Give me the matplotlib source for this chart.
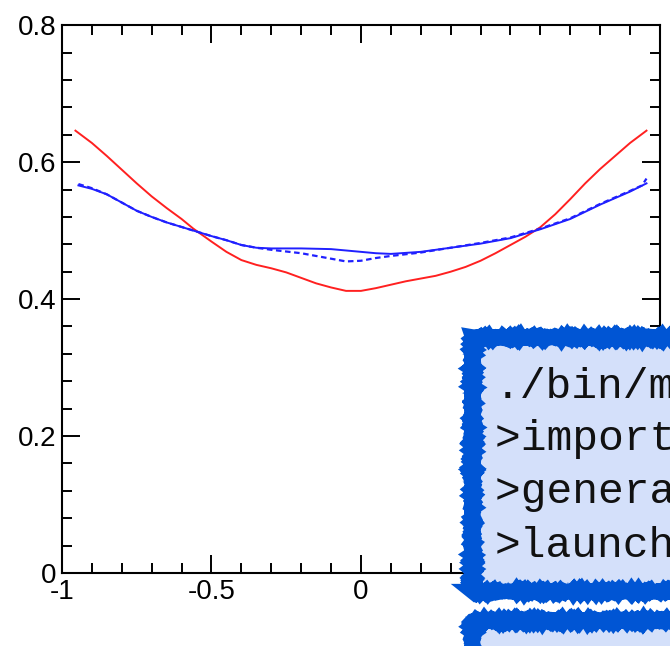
import matplotlib
matplotlib.use("Agg")
import matplotlib.pyplot as plt
from matplotlib.patches import Rectangle
from matplotlib.ticker import MultipleLocator

# curves
x_red = [-0.955, -0.9, -0.85, -0.8, -0.75, -0.7, -0.65, -0.6, -0.561, -0.5, -0.45, -0.4, -0.35, -0.3,
         -0.25, -0.2, -0.15, -0.1, -0.05, 0.0, 0.05, 0.1, 0.15, 0.2, 0.25, 0.3, 0.35, 0.4, 0.45,
         0.5, 0.55, 0.6, 0.65, 0.7, 0.75, 0.8, 0.85, 0.9, 0.955]
y_red = [0.646, 0.628, 0.609, 0.589, 0.569, 0.550, 0.533, 0.517, 0.503, 0.484, 0.469, 0.457, 0.450, 0.445,
         0.439, 0.431, 0.423, 0.417, 0.412, 0.412, 0.416, 0.421, 0.426, 0.430, 0.434, 0.440, 0.447, 0.456, 0.467,
         0.479, 0.491, 0.505, 0.524, 0.546, 0.569, 0.590, 0.609, 0.628, 0.646]

x_solid = [-0.945, -0.9, -0.85, -0.8, -0.75, -0.7, -0.65, -0.56, -0.5, -0.45, -0.4, -0.35, -0.3, -0.2, -0.1,
           0.0, 0.05, 0.1, 0.2, 0.3, 0.4, 0.5, 0.6, 0.7, 0.8, 0.9, 0.955]
y_solid = [0.566, 0.561, 0.553, 0.541, 0.529, 0.520, 0.512, 0.500, 0.492, 0.486, 0.479, 0.475, 0.474, 0.474, 0.473,
           0.469, 0.467, 0.466, 0.469, 0.475, 0.481, 0.489, 0.502, 0.517, 0.538, 0.557, 0.569]

x_dash = [-0.945, -0.9, -0.85, -0.8, -0.75, -0.7, -0.65, -0.56, -0.5, -0.45, -0.4, -0.35, -0.3, -0.2, -0.1,
          -0.05, 0.0, 0.05, 0.1, 0.2, 0.3, 0.4, 0.5, 0.6, 0.7, 0.8, 0.9, 0.94, 0.955]
y_dash = [0.568, 0.562, 0.553, 0.541, 0.529, 0.520, 0.512, 0.500, 0.492, 0.486, 0.479, 0.475, 0.472, 0.467, 0.459,
          0.455, 0.456, 0.460, 0.463, 0.468, 0.475, 0.482, 0.490, 0.503, 0.518, 0.539, 0.558, 0.566, 0.576]

x_ticks = [-1, -0.5, 0]
x_ticklabels = ["-1", "-0.5", "0"]
y_ticks = [0, 0.2, 0.4, 0.6, 0.8]
y_ticklabels = ["0", "0.2", "0.4", "0.6", "0.8"]

cmd_lines = ["./bin/mg5_aMC", ">import model sm", ">generate p p > t t~", ">launch"]

fig = plt.figure(figsize=(6.7, 6.46), dpi=100)
ax = fig.add_axes([0.0925, 0.113, 0.8925, 0.848])

ax.plot(x_red, y_red, color="#ff2020", lw=1.4)
ax.plot(x_solid, y_solid, color="#2020ff", lw=1.4)
ax.plot(x_dash, y_dash, color="#2020ff", lw=1.6, linestyle=(0, (2.5, 1.6)))

ax.set_xlim(-1, 1)
ax.set_ylim(0, 0.8)
ax.set_xticks(x_ticks)
ax.set_xticklabels(x_ticklabels)
ax.set_yticks(y_ticks)
ax.set_yticklabels(y_ticklabels)
ax.xaxis.set_minor_locator(MultipleLocator(0.1))
ax.yaxis.set_minor_locator(MultipleLocator(0.04))
ax.tick_params(which="both", direction="in", top=True, right=True, width=1.4)
ax.tick_params(which="major", length=13, labelsize=20, pad=4)
ax.tick_params(which="minor", length=7)
for lab in ax.get_xticklabels() + ax.get_yticklabels():
    lab.set_family(["Liberation Sans", "DejaVu Sans"])
for s in ax.spines.values():
    s.set_linewidth(1.5)

# overlay boxes with rough blue border
box_fill = "#d4e0fa"
box_edge = "#0055d4"
for (y0, h) in [(0.0851, 0.3932), (-0.2, 0.2402)]:
    r = Rectangle((0.7045, y0), 0.5, h, transform=fig.transFigure,
                  facecolor=box_fill, edgecolor=box_edge, lw=11, zorder=2)
    r.set_sketch_params(scale=0.8, length=2, randomness=2)
    fig.patches.append(r)
    r2 = Rectangle((0.7045, y0), 0.5, h, transform=fig.transFigure,
                   facecolor="none", edgecolor=box_edge, lw=4, zorder=2.1)
    r2.set_sketch_params(scale=1.5, length=1.5, randomness=2)
    fig.patches.append(r2)

base_px = [398, 450, 503, 557]
for txt, yp in zip(cmd_lines, base_px):
    fig.text(495 / 670, (646 - yp) / 646, txt, fontsize=31, va="baseline", ha="left",
             family=["Liberation Mono", "DejaVu Sans Mono"], color="#111111", zorder=3)

fig.savefig("out.png", dpi=100)
